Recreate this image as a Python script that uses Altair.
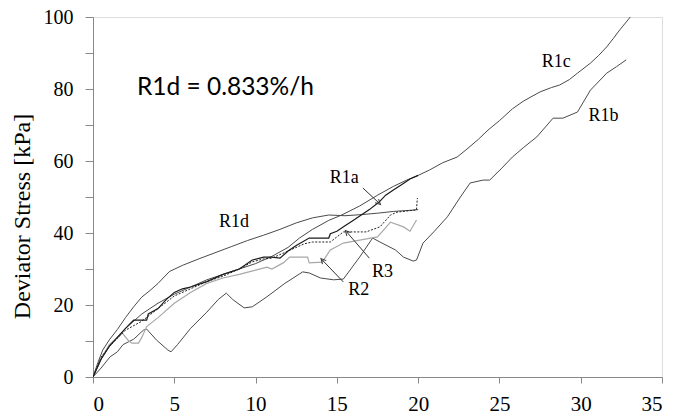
import altair as alt
import pandas as pd

# ---------------- data ----------------
r1d_x = [0, 0.3, 0.6, 1.0, 1.5, 2.0, 2.5, 3.0, 3.5, 4.0, 4.7, 5.5, 6.5, 7.5, 8.5, 9.5, 10.5, 11.5, 12.5, 13.5, 14.5, 15.5, 16.5, 17.5, 18.5, 19.5, 20.0]
r1d_y = [0, 4, 7.5, 10.3, 13.2, 16.5, 19.5, 22.2, 24, 26, 29.3, 31, 32.8, 34.5, 36.2, 37.9, 39.4, 41, 42.8, 44.2, 45, 44.8, 45.1, 45.5, 46, 46.3, 46.5]

r1c_x = [0, 0.5, 1, 2, 3, 4, 5, 6, 7, 8, 9, 10, 11, 12, 12.7, 13.5, 14.5, 15.3, 16.4, 17.5, 18.5, 19.3, 20, 20.7, 21.5, 22.4, 23, 23.7, 24.3, 25, 25.8, 26.5, 27.5, 28.2, 28.7, 29.3, 29.8, 30.6, 31.1, 31.6, 32.0, 32.4, 33.05]
r1c_y = [0, 5, 8.5, 13.5, 17.5, 20.5, 23, 25, 27, 28.5, 30, 31.5, 33.5, 36, 38.6, 41, 43.5, 45, 47.5, 50.5, 53, 54.7, 56, 57.5, 59.5, 61.1, 63.3, 66, 68.6, 71.2, 74.5, 76.7, 79.2, 80.4, 81.1, 82.6, 84.4, 87.2, 89.3, 91.7, 94, 96.4, 100]

r1b_x = [0, 0.5, 1.05, 1.5, 1.85, 2.5, 3.1, 3.3, 3.9, 4.6, 4.8, 5.2, 6, 7, 7.7, 8.2, 8.6, 9.3, 9.8, 10.7, 11.8, 12.9, 13.3, 14.0, 14.8, 15.4, 16.4, 17.2, 17.65, 18.6, 19.1, 19.7, 19.9, 20.3, 21.0, 21.8, 22.6, 23.2, 24.0, 24.4, 25.1, 25.8, 26.5, 27.3, 28.3, 28.9, 29.8, 30.6, 31.6, 32.2, 32.8]
r1b_y = [0, 2.5, 5.6, 7, 9, 10.5, 13, 13.3, 10.3, 7.5, 7, 9, 13.5, 18, 21.5, 23.3, 21.5, 19.2, 19.5, 22.3, 26, 29.2, 28.9, 27.5, 27, 27.2, 33.3, 38.6, 37.5, 35.3, 33.3, 32.2, 32.5, 37.2, 40.5, 44.5, 50, 53.9, 54.7, 54.7, 57.8, 61.1, 63.8, 66.7, 71.9, 71.9, 73.6, 79.7, 84.4, 86.2, 88.1]

r1a_x = [0, 0.5, 1, 1.5, 2, 2.5, 3.3, 3.4, 4, 4.5, 5, 5.5, 6, 7, 8, 9, 9.8, 10.5, 11, 11.5, 12, 12.5, 13.3, 14.5, 14.6, 15, 15.5, 16, 16.5, 17, 17.6, 18, 18.5, 19, 19.5, 20]
r1a_y = [0, 5, 8.5, 11, 13.5, 15.8, 15.8, 17.5, 19, 21.5, 23.5, 24.5, 25, 26.5, 28.5, 30, 32.5, 33.3, 33.3, 33, 35, 36.5, 38.6, 38.6, 39.8, 40.5, 42, 43.5, 45, 46.5, 48.6, 50.5, 52, 53.5, 55, 56]

r3_x = [0, 0.5, 1, 2, 3, 4, 5, 6, 7, 8, 9, 9.8, 10.5, 11, 12, 13, 13.5, 14.6, 15.4, 16.8, 17.65, 18.3, 18.7, 19.9, 19.95]
r3_y = [0, 5.5, 8.5, 13, 15.5, 19, 22.5, 24.5, 26.5, 28, 30, 32, 32.8, 33, 35, 37, 37.5, 37.5, 40.3, 40.3, 41.7, 45, 45.8, 46.4, 49.7]

r2_x = [0, 0.5, 1, 1.8, 2.2, 2.4, 2.8, 3.0, 3.3, 4, 5, 6, 7, 8, 9, 10, 10.7, 11, 11.7, 12.1, 13.2, 13.3, 14.1, 14.6, 15.4, 16.4, 17.5, 18.3, 19.1, 19.5, 19.9]
r2_y = [0, 5, 9, 12.2, 10, 9.4, 9.4, 11, 14, 16.5, 20.5, 23.5, 26, 27.5, 28.5, 29.7, 30.5, 30, 31.7, 33.3, 33.3, 31.7, 31.9, 35.3, 37.2, 38, 38.9, 43, 41.7, 40.5, 43.6]

label_text = ["R1d", "R1c", "R1b", "R1a", "R3", "R2"]
label_x = [8.67, 28.5, 31.4, 15.45, 17.8, 16.35]
label_y = [43.0, 87.5, 72.5, 55.3, 29.2, 24.2]

arrow_x = [16.6, 17.0, 15.4]
arrow_y = [52.5, 33.0, 26.4]
arrow_x2 = [17.6, 15.6, 14.1]
arrow_y2 = [48.3, 40.3, 32.5]
arrow_angle = [133, 318, 318]

note_text = ["R1d = 0.833%/h"]
note_x = [2.7]
note_y = [78.3]

x_ticks = [0, 5, 10, 15, 20, 25, 30, 35]
y_ticks = [0, 10, 20, 30, 40, 50, 60, 70, 80, 90, 100]

# ---------------- chart ----------------
xs = alt.Scale(domain=[0, 35], nice=False)
ys = alt.Scale(domain=[0, 100], nice=False)
SERIF = "Liberation Serif"

x_axis = alt.Axis(values=x_ticks, title=None, grid=False, tickSize=6, labelPadding=10,
                  labelFont=SERIF, labelFontSize=21, labelColor="black",
                  domainColor="#888888", tickColor="#888888")
y_axis = alt.Axis(values=y_ticks, title="Deviator Stress [kPa]", grid=False, tickSize=8,
                  labelPadding=12, labelFont=SERIF, labelFontSize=20, labelColor="black",
                  labelExpr="datum.value % 20 == 0 ? datum.label : ''",
                  titleFont=SERIF, titleFontSize=24, titleFontWeight="normal",
                  titleColor="black", titlePadding=9, titleY=199, titleAnchor="middle",
                  domainColor="#888888", tickColor="#888888")


def X(field):
    return alt.X(field, scale=xs, axis=x_axis, title=None)


def Y(field):
    return alt.Y(field, scale=ys, axis=y_axis, title="Deviator Stress [kPa]")


def series(xv, yv, color, width, dash=None):
    df = pd.DataFrame({"x": xv, "y": yv, "o": list(range(len(xv)))})
    kw = dict(color=color, strokeWidth=width, clip=True)
    if dash:
        kw["strokeDash"] = dash
    return alt.Chart(df).mark_line(**kw).encode(x=X("x:Q"), y=Y("y:Q"), order="o:Q")


layers = [
    series(r1d_x, r1d_y, "#4a4a4a", 1.0),
    series(r1c_x, r1c_y, "#4a4a4a", 1.0),
    series(r1b_x, r1b_y, "#4a4a4a", 1.0),
    series(r2_x, r2_y, "#a8a8a8", 1.2),
    series(r3_x, r3_y, "#222222", 1.0, dash=[2, 1.5]),
    series(r1a_x, r1a_y, "#1a1a1a", 1.2),
]

arrows_df = pd.DataFrame({"x": arrow_x, "y": arrow_y, "x2": arrow_x2, "y2": arrow_y2, "a": arrow_angle})
arrow_lines = alt.Chart(arrows_df).mark_rule(color="#333333", strokeWidth=1).encode(
    x=X("x:Q"), y=Y("y:Q"), x2="x2:Q", y2="y2:Q")
arrow_heads = alt.Chart(arrows_df).mark_point(
    shape="M-0.8,1 L0,-0.6 L0.8,1", filled=False, color="#333333", strokeWidth=1, size=40, opacity=1
).encode(x=X("x2:Q"), y=Y("y2:Q"), angle=alt.Angle("a:Q", scale=None))

labels_df = pd.DataFrame({"t": label_text, "x": label_x, "y": label_y})
labels = alt.Chart(labels_df).mark_text(font=SERIF, fontSize=18, color="black",
                                        align="center", baseline="middle").encode(
    x=X("x:Q"), y=Y("y:Q"), text="t:N")

note_df = pd.DataFrame({"t": note_text, "x": note_x, "y": note_y})
note = alt.Chart(note_df).mark_text(font="Lato", fontSize=24.5, color="black",
                                    align="left", baseline="alphabetic").encode(
    x=X("x:Q"), y=Y("y:Q"), text="t:N")

chart = alt.layer(*layers, arrow_lines, arrow_heads, labels, note).properties(
    width=569, height=360,
    autosize=alt.AutoSizeParams(type="none"),
    padding={"left": 93, "top": 17, "right": 13, "bottom": 41},
).configure_view(stroke="#888888", strokeWidth=1).configure(background="white")

chart.save("out.html", embed_options={"renderer": "svg", "actions": False})
